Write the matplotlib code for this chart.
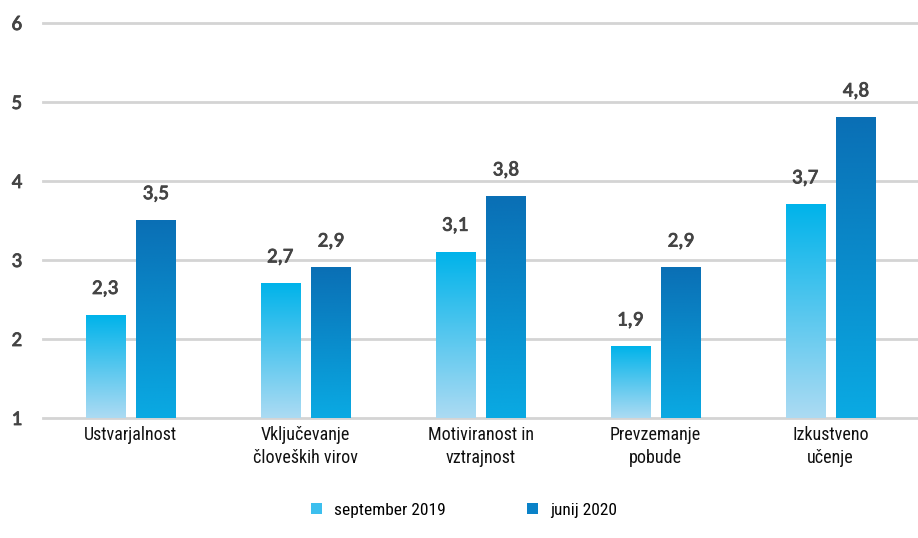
import numpy as np
import matplotlib
matplotlib.use("Agg")
import matplotlib.pyplot as plt
import matplotlib.patheffects as pe
from matplotlib.colors import LinearSegmentedColormap
from matplotlib.patches import Patch
from matplotlib import font_manager

categories = ["Ustvarjalnost", "Vključevanje\nčloveških virov", "Motiviranost in\nvztrajnost",
              "Prevzemanje\npobude", "Izkustveno\nučenje"]
sep_2019 = [2.3, 2.7, 3.1, 1.9, 3.7]
jun_2020 = [3.5, 2.9, 3.8, 2.9, 4.8]
series_names = ["september 2019", "junij 2020"]
yticks = [1, 2, 3, 4, 5, 6]

installed = {f.name for f in font_manager.fontManager.ttflist}


def pick(*cands):
    for c in cands:
        if c in installed:
            return c
    return "DejaVu Sans"


narrow = pick("Liberation Sans Narrow", "Arial Narrow", "Roboto Condensed", "PT Sans Narrow",
              "Archivo Narrow", "Fira Sans Condensed", "IBM Plex Sans Condensed", "Open Sans Condensed",
              "Encode Sans Condensed", "Barlow Semi Condensed", "Pragati Narrow")
numfont = pick("Carlito", "Calibri", "Lato", "Open Sans")
num_color = "#444444"
thicken = [pe.withStroke(linewidth=0.6, foreground=num_color)]

# bottom -> top colours of each series
light_cmap = LinearSegmentedColormap.from_list("light", ["#acdbf3", "#00b3ea"])
dark_cmap = LinearSegmentedColormap.from_list("dark", ["#0aaae3", "#0a6fb5"])

fig = plt.figure(figsize=(9.18, 5.38), dpi=100)
ax = fig.add_axes([43 / 918, 1 - 418 / 538, 1 - 43 / 918, (418 - 23) / 538])

x = np.arange(len(categories))
width = 0.223
offset = 0.145
grad = np.linspace(0, 1, 256).reshape(-1, 1)

for vals, sign, cmap in [(sep_2019, -1, light_cmap), (jun_2020, 1, dark_cmap)]:
    for xi, v in zip(x, vals):
        x0 = xi + sign * offset - width / 2
        ax.imshow(grad, extent=[x0, x0 + width, 1, v], origin="lower", aspect="auto",
                  cmap=cmap, zorder=3, interpolation="bilinear")
        ax.text(xi + sign * offset, v + 0.27, f"{v:.1f}".replace(".", ","),
                ha="center", va="baseline", fontsize=15, color=num_color,
                fontfamily=numfont, path_effects=thicken)

ax.set_xlim(-0.5, len(categories) - 0.5)
ax.set_ylim(1, 6)
ax.set_yticks(yticks)
ax.yaxis.grid(True, color="#d4d4d4", linewidth=2, zorder=0)
for gl in ax.get_ygridlines():
    gl.set_clip_on(False)
ax.set_axisbelow(True)
for s in ax.spines.values():
    s.set_visible(False)
ax.tick_params(axis="both", length=0)
ax.tick_params(axis="y", pad=15)
for lbl in ax.get_yticklabels():
    lbl.set_fontfamily(numfont)
    lbl.set_fontsize(15)
    lbl.set_color(num_color)
    lbl.set_path_effects(thicken)
ax.set_xticks(x)
ax.set_xticklabels(categories, fontfamily=narrow, fontsize=13, color="#111111", linespacing=1.3)
ax.tick_params(axis="x", pad=6)

handles = [Patch(facecolor="#3cbfee", edgecolor="none"), Patch(facecolor="#0a82c8", edgecolor="none")]
fig.legend(handles, series_names, loc="center", bbox_to_anchor=(464 / 918, 1 - 510 / 538), ncol=2,
           frameon=False, prop={"family": narrow, "size": 12.5}, handlelength=0.6, handleheight=0.6,
           handletextpad=0.7, columnspacing=4.7)

fig.savefig("out.png", dpi=100)
